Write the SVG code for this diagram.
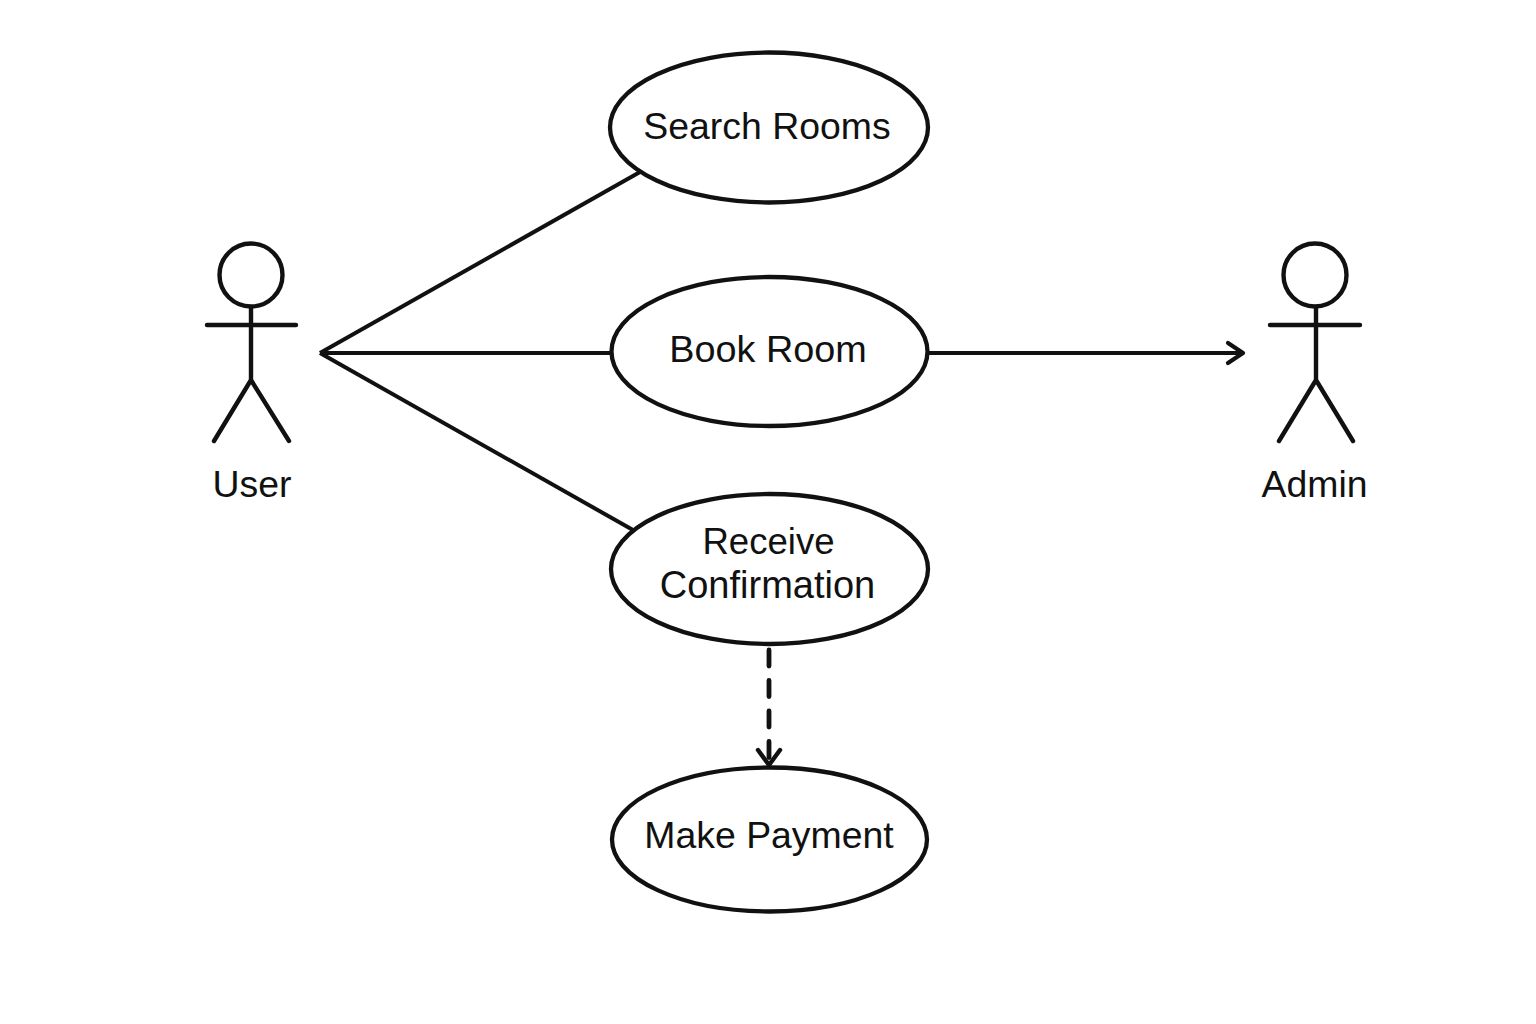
<svg xmlns="http://www.w3.org/2000/svg" width="1536" height="1024" viewBox="0 0 1536 1024">
<defs>
<style>
.s{fill:none;stroke:#111;stroke-width:4.4;stroke-linecap:round;stroke-linejoin:round}
.e{fill:#fff;stroke:#111;stroke-width:4.3}
.c{fill:none;stroke:#111;stroke-width:4}
.d{fill:none;stroke:#111;stroke-width:4.8;stroke-linecap:round;stroke-dasharray:16 14.5}
text{font-family:"Liberation Sans",Arial,sans-serif;font-size:37.400px;fill:#111;text-anchor:middle}
</style>
<marker id="a" markerUnits="userSpaceOnUse" markerWidth="24" markerHeight="28" refX="18" refY="14" orient="auto"><path d="M3 4L18 14L3 24" fill="none" stroke="#111" stroke-width="4.2" stroke-linecap="round" stroke-linejoin="round"/></marker>
<marker id="b" markerUnits="userSpaceOnUse" markerWidth="24" markerHeight="32" refX="18" refY="16" orient="auto"><path d="M3 5L18 16L3 27" fill="none" stroke="#111" stroke-width="4.4" stroke-linecap="round" stroke-linejoin="round"/></marker>
</defs>
<rect width="1536" height="1024" fill="#fff"/>
<g id="connectors">
<line class="c" x1="320" y1="353" x2="640" y2="172"/>
<line class="c" x1="320" y1="353" x2="612" y2="353"/>
<line class="c" x1="320" y1="353" x2="633" y2="530"/>
<line class="c" x1="929" y1="353" x2="1243" y2="353" marker-end="url(#a)"/>
<line class="d" x1="769" y1="650" x2="769" y2="765" marker-end="url(#b)"/>
</g>
<g id="user"><circle class="s" cx="251" cy="275" r="31.500"/><path class="s" d="M251 307V380M207 325H296M251 380L214 441M251 380L289 441"/><text x="252" y="497">User</text></g>
<g id="admin"><circle class="s" cx="1315" cy="275" r="31.500"/><path class="s" d="M1316 307V380M1270 325H1360M1316 380L1279 441M1316 380L1353 441"/><text x="1314.500" y="497">Admin</text></g>
<g id="search"><ellipse class="e" cx="769" cy="127.500" rx="159" ry="75"/><text x="767" y="139">Search Rooms</text></g>
<g id="book"><ellipse class="e" cx="769.500" cy="351.500" rx="158" ry="74.500"/><text x="768" y="362" font-size="37.800" style="font-size:37.800px">Book Room</text></g>
<g id="receive"><ellipse class="e" cx="769.500" cy="569" rx="158.500" ry="75"/><text x="768.500" y="554" style="font-size:36.600px">Receive</text><text x="767.500" y="598" style="font-size:38px">Confirmation</text></g>
<g id="payment"><ellipse class="e" cx="769.500" cy="839.500" rx="157.500" ry="72"/><text x="769" y="848">Make Payment</text></g>
</svg>
